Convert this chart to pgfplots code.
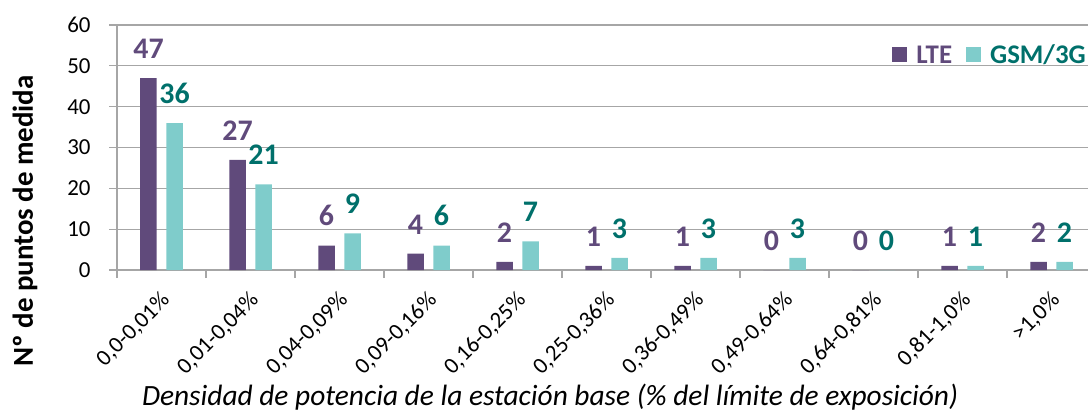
\documentclass[border=0pt]{standalone}
\usepackage{pgfplots}
\pgfplotsset{compat=1.18}
\usepackage{fontspec}
\setmainfont{Carlito}
\definecolor{lte}{HTML}{604A7B}
\definecolor{gsm}{HTML}{7FCCCB}
\definecolor{gsmtxt}{HTML}{00706B}
\definecolor{gridc}{HTML}{A6A6A6}
\begin{document}
\begin{tikzpicture}
\begin{axis}[
  at={(0,0)}, anchor=south west,
  scale only axis, width=971bp, height=245bp,
  xmin=-0.5, xmax=10.41, ymin=0, ymax=60,
  ytick={0,10,...,60},
  xtick={0,...,10},
  xticklabels={{0,0-0,01\%},{0,01-0,04\%},{0,04-0,09\%},{0,09-0,16\%},{0,16-0,25\%},{0,25-0,36\%},{0,36-0,49\%},{0,49-0,64\%},{0,64-0,81\%},{0,81-1,0\%},{>1,0\%}},
  major x tick style={draw=none},
  minor xtick={-0.5,0.5,...,10.5},
  minor x tick style={gridc, line width=1.2bp},
  tick align=outside,
  major tick length=8bp, minor tick length=8bp,
  ytick style={gridc, line width=1.2bp},
  ymajorgrids, grid style={gridc, line width=1.2bp},
  axis x line*=bottom, axis y line*=left,
  axis line style={gridc, line width=1.2bp, -},
  ticklabel style={font=\fontsize{23}{23}\selectfont, text=black},
  /pgf/number format/assume math mode=true,
  yticklabel style={xshift=-15bp},
  xticklabel style={xshift=-2bp, yshift=-12bp, rotate=45, anchor=north east, inner sep=0pt},
  xlabel={Densidad de potencia de la estación base (\% del límite de exposición)},
  xlabel style={at={(rel axis cs:0.446,0)}, anchor=center, yshift=-127bp, font=\itshape\fontsize{29.5}{29.5}\selectfont},
  ylabel={Nº de puntos de medida},
  ylabel style={at={(rel axis cs:0,0.2)}, anchor=center, yshift=92bp, font=\bfseries\fontsize{29}{29}\selectfont},
  legend columns=2,
  legend style={at={(rel axis cs:1,0.877)}, anchor=east, draw=none, fill=none,
    font=\bfseries\fontsize{27}{27}\selectfont, inner sep=0pt,
    /tikz/every even column/.append style={column sep=12bp}},
]
\addplot[ybar, fill=lte, draw=none, bar width=16.5bp, bar shift=-13bp,
  nodes near coords,
  every node near coord/.append style={text=lte, font=\bfseries\fontsize{30}{30}\selectfont, xshift=-13bp, yshift=16bp},
  legend image code/.code={\fill[lte] (0bp,-7bp) rectangle (15bp,8bp);}]
  coordinates {(0,47)(1,27)(2,6)(3,4)(4,2)(5,1)(6,1)(7,0)(8,0)(9,1)(10,2)};
\addlegendentry{\hspace{7bp}\textcolor{lte}{LTE}}
\addplot[ybar, fill=gsm, draw=none, bar width=16.5bp, bar shift=13bp,
  nodes near coords,
  every node near coord/.append style={text=gsmtxt, font=\bfseries\fontsize{30}{30}\selectfont, xshift=13bp, yshift=16bp},
  legend image code/.code={\fill[gsm] (0bp,-7bp) rectangle (15bp,8bp);}]
  coordinates {(0,36)(1,21)(2,9)(3,6)(4,7)(5,3)(6,3)(7,3)(8,0)(9,1)(10,2)};
\addlegendentry{\hspace{7bp}\textcolor{gsmtxt}{GSM/3G}}
\end{axis}
\pgfresetboundingbox
\useasboundingbox (-117bp,-142bp) rectangle (971bp,270bp);
\end{tikzpicture}
\end{document}
